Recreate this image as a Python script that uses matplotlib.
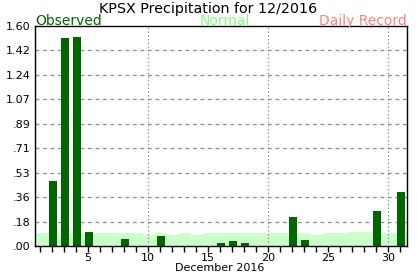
import numpy as np
import matplotlib
matplotlib.use('Agg')
import matplotlib.pyplot as plt

# Daily observed precipitation (inches), December 2016
days = np.arange(1, 32)
observed = [0, 0.47, 1.51, 1.52, 0.10, 0, 0, 0.05, 0, 0,
            0.075, 0, 0, 0, 0, 0.024, 0.04, 0.024, 0, 0,
            0, 0.213, 0.046, 0, 0, 0, 0, 0, 0.257, 0,
            0.39]
# Daily normal precipitation
normal = [0.097, 0.097, 0.097, 0.097, 0.097, 0.093, 0.093, 0.093, 0.093, 0.08,
          0.095, 0.08, 0.095, 0.08, 0.095, 0.095, 0.095, 0.095, 0.095, 0.095,
          0.095, 0.095, 0.095, 0.08, 0.093, 0.093, 0.104, 0.104, 0.104, 0.093,
          0.104]
ytick_vals = np.linspace(0, 1.6, 10)
ytick_labels = ['.00', '.18', '.36', '.53', '.71', '.89', '1.07', '1.24', '1.42', '1.60']

fig = plt.figure(figsize=(4.17, 2.76), dpi=100)
ax = fig.add_axes([35 / 417, 30 / 276, 372 / 417, 220 / 276])

shift = 0.08
xs = np.concatenate([[0], days, [32]]) + shift
ns = np.concatenate([[normal[0]], normal, [normal[-1]]])
ax.fill_between(xs, 0, ns, step='mid', color='#ccffcc', linewidth=0, zorder=0.5)

ax.bar(days + shift, observed, width=0.66, color='#006600', zorder=2)

# grid
for y in ytick_vals[1:-1]:
    ax.axhline(y, color='#8c8c8c', linestyle=(0, (3, 3)), linewidth=0.9, zorder=1)
for x in [10, 20, 30]:
    ax.axvline(x, color='#888888', linestyle=(0, (1, 2)), linewidth=0.9, zorder=1)

ax.set_xlim(0.6, 31.55)
ax.set_ylim(0, 1.6)
ax.set_yticks(ytick_vals)
ax.set_yticklabels(ytick_labels)
ax.tick_params(axis='y', length=0, pad=3, labelsize=8)
ax.set_xticks([5, 10, 15, 20, 25, 30])
ax.set_xticks(days, minor=True)
ax.tick_params(axis='x', which='both', length=4, width=1, direction='out', labelsize=8, pad=1)
for s in ax.spines.values():
    s.set_linewidth(1)

fig.text(208 / 417, 1 - 12.5 / 276, 'KPSX Precipitation for 12/2016', ha='center', va='baseline', fontsize=10.3)
fig.text(35 / 417, 1 - 25 / 276, 'Observed', color='#006600', ha='left', va='baseline', fontsize=10)
fig.text(225 / 417, 1 - 25 / 276, 'Normal', color='#80ff80', ha='center', va='baseline', fontsize=10)
fig.text(407 / 417, 1 - 25 / 276, 'Daily Record', color='#ff8080', ha='right', va='baseline', fontsize=10)
fig.text(220 / 417, 1 - 268 / 276, 'December 2016', ha='center', va='center', fontsize=8)

fig.savefig('out.png', dpi=100)
